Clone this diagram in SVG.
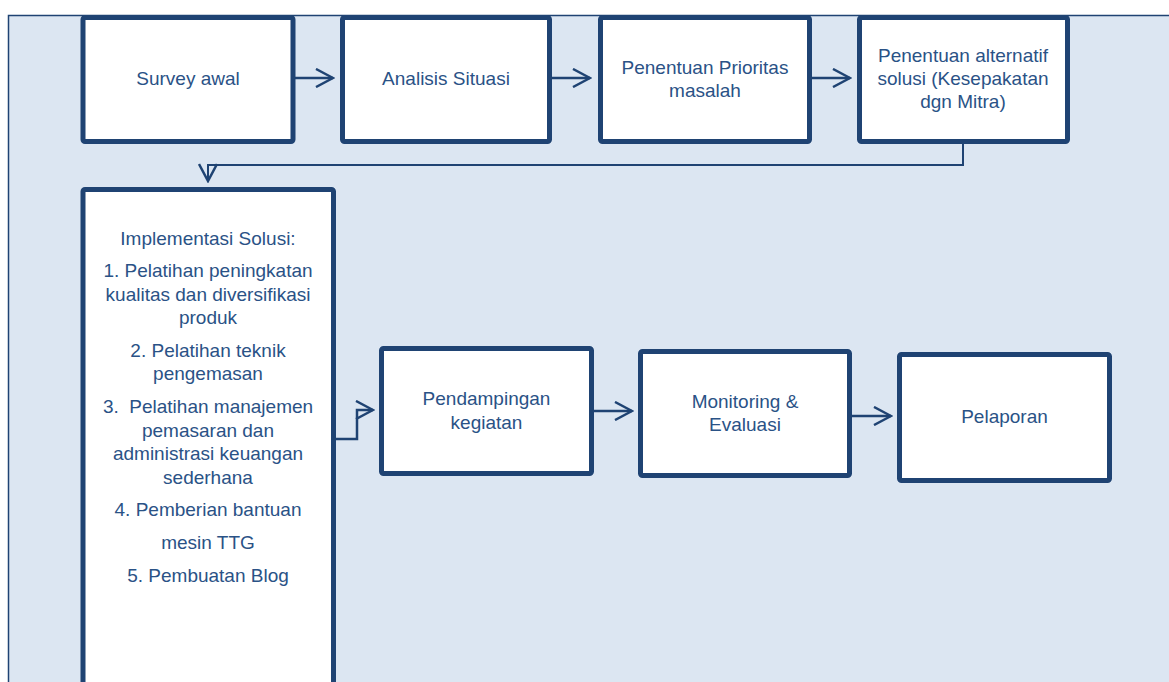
<svg xmlns="http://www.w3.org/2000/svg" width="1169" height="682" viewBox="0 0 1169 682">
<defs>
<style>
.box{fill:#ffffff;stroke:#1F4373;stroke-width:5;}
.t{font-family:"Liberation Sans",Arial,sans-serif;font-size:19px;fill:#2A5286;text-anchor:middle;}
.c{fill:none;stroke:#1F4373;stroke-width:2.5;stroke-linejoin:miter;}
.thin{fill:none;stroke:#1F4373;stroke-width:2;}
</style>
<marker id="ah" viewBox="0 0 20 20" refX="18" refY="10" markerWidth="20" markerHeight="20" markerUnits="userSpaceOnUse" orient="auto">
<path d="M1,1 L18,10 L1,19" fill="none" stroke="#1F4373" stroke-width="2.5"/>
</marker>
</defs>
<rect x="8.5" y="15.5" width="1200" height="700" fill="#DCE6F2" stroke="#1F4373" stroke-width="1.5"/>
<g id="connectors">
<line class="c" x1="295" y1="78" x2="333" y2="78" marker-end="url(#ah)"/>
<line class="c" x1="552" y1="78" x2="590" y2="78" marker-end="url(#ah)"/>
<line class="c" x1="812" y1="78" x2="850" y2="78" marker-end="url(#ah)"/>
<path class="thin" d="M963,143 V165 H208 V181" marker-end="url(#ah)"/>
<path class="c" d="M336,439 H357 V410 H373" marker-end="url(#ah)"/>
<line class="c" x1="594" y1="411" x2="632" y2="411" marker-end="url(#ah)"/>
<line class="c" x1="852" y1="416" x2="891" y2="416" marker-end="url(#ah)"/>
</g>
<g id="survey">
<rect class="box" x="83" y="17.5" width="210" height="124" rx="2"/>
<text class="t" x="188" y="85">Survey awal</text>
</g>
<g id="analisis">
<rect class="box" x="342.5" y="17.5" width="207" height="124" rx="2"/>
<text class="t" x="446" y="85">Analisis Situasi</text>
</g>
<g id="prioritas">
<rect class="box" x="600.5" y="17.5" width="209" height="124" rx="2"/>
<text class="t" x="705" y="74">Penentuan Prioritas</text>
<text class="t" x="705" y="97">masalah</text>
</g>
<g id="alternatif">
<rect class="box" x="859.5" y="17.5" width="208" height="124" rx="2"/>
<text class="t" x="963" y="62">Penentuan alternatif</text>
<text class="t" x="963" y="85">solusi (Kesepakatan</text>
<text class="t" x="963" y="108">dgn Mitra)</text>
</g>
<g id="implementasi">
<rect class="box" x="83" y="189.5" width="250.5" height="520" rx="2"/>
<text class="t" x="208" y="245">Implementasi Solusi:</text>
<text class="t" x="208" y="277">1. Pelatihan peningkatan</text>
<text class="t" x="208" y="300.5">kualitas dan diversifikasi</text>
<text class="t" x="208" y="324">produk</text>
<text class="t" x="208" y="356.5">2. Pelatihan teknik</text>
<text class="t" x="208" y="380">pengemasan</text>
<text class="t" x="208" y="412.5" xml:space="preserve">3.  Pelatihan manajemen</text>
<text class="t" x="208" y="436.5">pemasaran dan</text>
<text class="t" x="208" y="460">administrasi keuangan</text>
<text class="t" x="208" y="483.5">sederhana</text>
<text class="t" x="208" y="516">4. Pemberian bantuan</text>
<text class="t" x="208" y="549">mesin TTG</text>
<text class="t" x="208" y="582">5. Pembuatan Blog</text>
</g>
<g id="pendampingan">
<rect class="box" x="381.5" y="348.5" width="210" height="125" rx="2"/>
<text class="t" x="486.5" y="405">Pendampingan</text>
<text class="t" x="486.5" y="429">kegiatan</text>
</g>
<g id="monitoring">
<rect class="box" x="640.5" y="351.5" width="209" height="124" rx="2"/>
<text class="t" x="745" y="408">Monitoring &amp;</text>
<text class="t" x="745" y="431">Evaluasi</text>
</g>
<g id="pelaporan">
<rect class="box" x="899.5" y="354.5" width="210" height="126" rx="2"/>
<text class="t" x="1004.5" y="423">Pelaporan</text>
</g>
</svg>
